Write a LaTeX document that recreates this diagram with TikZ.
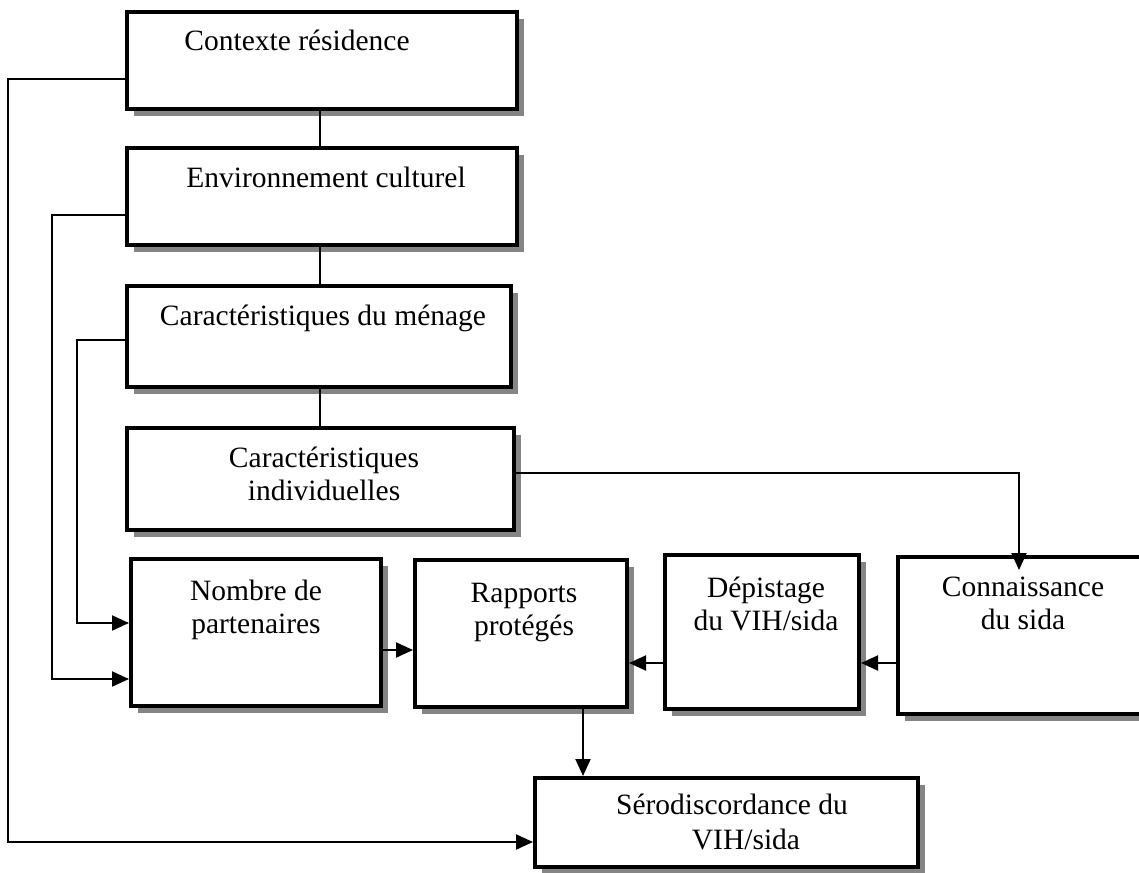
\documentclass[tikz,border=0pt]{standalone}
\usepackage{fontspec}
\setmainfont{Liberation Serif}
\usetikzlibrary{arrows.meta,shadows}
\begin{document}
\begin{tikzpicture}[x=1pt,y=-1pt,
  box/.style={rectangle, draw=black, line width=4pt, fill=white, inner sep=0pt,
    drop shadow={shadow xshift=7pt, shadow yshift=-7pt, fill=black!48, opacity=1}},
  lbl/.style={anchor=north, align=center, inner sep=0pt,
    font=\fontsize{29.5}{33}\selectfont},
  link/.style={line width=2pt},
  arr/.style={link, -{Triangle[length=17pt,width=15pt]}}]
\useasboundingbox (0,0) rectangle (1139,872);
\clip (0,0) rectangle (1139,872);
\fill[white] (0,0) rectangle (1139,872);

% boxes
\node[box, minimum width=390pt, minimum height=97pt]  (ctx) at (322,60.5) {};
\node[box, minimum width=390pt, minimum height=97pt]  (env) at (322,196.5) {};
\node[box, minimum width=384pt, minimum height=101pt] (men) at (319,336.5) {};
\node[box, minimum width=387pt, minimum height=102pt] (ind) at (320.5,479) {};
\node[box, minimum width=250pt, minimum height=147pt] (nbp) at (256,632.5) {};
\node[box, minimum width=212pt, minimum height=147pt] (rap) at (521,633.5) {};
\node[box, minimum width=194pt, minimum height=154pt] (dep) at (762,632) {};
\node[box, minimum width=247pt, minimum height=157pt] (con) at (1021.5,635.5) {};
\node[box, minimum width=383pt, minimum height=89pt]  (ser) at (726.5,822.5) {};

% box texts, set near the top edge of each box
\node[lbl] (tctx) at (297,27)  {\rule{0pt}{23pt}Contexte résidence};
\node[lbl] (tenv) at (326,164) {\rule{0pt}{23pt}Environnement culturel};
\node[lbl] (tmen) at (323,302) {\rule{0pt}{23pt}Caractéristiques du ménage};
\node[lbl] (tind) at (324,444) {\rule{0pt}{23pt}Caractéristiques\\individuelles};
\node[lbl] (tnbp) at (256,577) {\rule{0pt}{23pt}Nombre de\\partenaires};
\node[lbl] (trap) at (524,579) {\rule{0pt}{23pt}Rapports\\protégés};
\node[lbl] (tdep) at (766,574) {\rule{0pt}{23pt}Dépistage\\du VIH/sida};
\node[lbl] (tcon) at (1023,573) {\rule{0pt}{23pt}Connaissance\\du sida};
\node[lbl] (tsera) at (732,791) {\rule{0pt}{23pt}Sérodiscordance du};
\node[lbl] (tserb) at (746,826) {\rule{0pt}{23pt}VIH/sida};

% routing points
\coordinate (vx) at (320,0);
\coordinate (r1) at (8,79);
\coordinate (r2) at (52,215);
\coordinate (r3) at (77,340);
\coordinate (r4) at (1019,473);
\coordinate (e8) at (1019,570);
\coordinate (e9) at (0,842);
\coordinate (e5a) at (0,623);
\coordinate (e5b) at (0,679);
\coordinate (h1) at (0,650);
\coordinate (h2) at (0,663);
\coordinate (v9) at (583,0);

% vertical chain of context boxes
\draw[link] (ctx.south -| vx) -- (env.north -| vx);
\draw[link] (env.south -| vx) -- (men.north -| vx);
\draw[link] (men.south -| vx) -- (ind.north -| vx);

% left-hand feedback lines
\draw[arr] (ctx.west |- r1) -- (r1) |- (ser.west |- e9);
\draw[arr] (env.west |- r2) -- (r2) |- (nbp.west |- e5b);
\draw[arr] (men.west |- r3) -- (r3) |- (nbp.west |- e5a);

% individual characteristics to knowledge
\draw[arr] (ind.east |- r4) -- (r4) -- (e8);

% bottom row
\draw[arr] (nbp.east |- h1) -- (rap.west |- h1);
\draw[arr] (con.west |- h2) -- (dep.east |- h2);
\draw[arr] (dep.west |- h2) -- (rap.east |- h2);
\draw[arr] (rap.south -| v9) -- (ser.north -| v9);
\end{tikzpicture}
\end{document}
